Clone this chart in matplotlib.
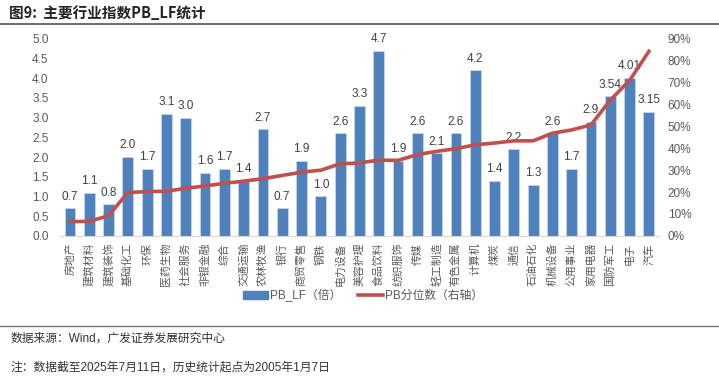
import matplotlib.pyplot as plt
import numpy as np
from matplotlib.lines import Line2D
from matplotlib.patches import Patch

plt.rcParams['font.family'] = ['Liberation Sans', 'Noto Sans CJK SC', 'DejaVu Sans']

# industry names
industries = ["房地产", "建筑材料", "建筑装饰", "基础化工", "环保", "医药生物", "社会服务",
              "非银金融", "综合", "交通运输", "农林牧渔", "银行", "商贸零售", "钢铁",
              "电力设备", "美容护理", "食品饮料", "纺织服饰", "传媒", "轻工制造", "有色金属",
              "计算机", "煤炭", "通信", "石油石化", "机械设备", "公用事业", "家用电器",
              "国防军工", "电子", "汽车"]
# PB_LF values (bars)
pb_lf = [0.7, 1.1, 0.8, 2.0, 1.7, 3.1, 3.0, 1.6, 1.7, 1.4, 2.7, 0.7, 1.9, 1.0,
         2.6, 3.3, 4.7, 1.9, 2.6, 2.1, 2.6, 4.2, 1.4, 2.2, 1.3, 2.6, 1.7, 2.9,
         3.54, 4.01, 3.15]
pb_labels = ["0.7", "1.1", "0.8", "2.0", "1.7", "3.1", "3.0", "1.6", "1.7", "1.4", "2.7",
             "0.7", "1.9", "1.0", "2.6", "3.3", "4.7", "1.9", "2.6", "2.1", "2.6", "4.2",
             "1.4", "2.2", "1.3", "2.6", "1.7", "2.9", "3.54", "4.01", "3.15"]
# PB percentile (right axis, %)
pb_pct = [6.5, 6.6, 9.2, 19.8, 20.2, 20.4, 21.7, 22.8, 24.0, 25.0, 26.1, 27.6, 29.1, 30.0,
          32.9, 33.3, 34.6, 34.5, 37.1, 38.6, 39.8, 41.6, 42.4, 43.4, 43.4, 46.9, 48.4,
          50.7, 62.0, 71.0, 84.3]

BLUE = "#4F81BD"
RED = "#C0504D"
GREY = "#595959"

fig = plt.figure(figsize=(7.19, 3.81), dpi=100)
ax = fig.add_axes([0.0839, 0.381, 0.832, 0.517])
x = np.arange(len(industries))

ax.bar(x, pb_lf, width=0.56, color=BLUE, edgecolor="#C9D7EA", linewidth=0.6, zorder=2)
for xi, v, lab in zip(x, pb_lf, pb_labels):
    ax.annotate(lab, (xi, v), xytext=(0, 4), textcoords="offset points",
                ha="center", va="bottom", fontsize=8.5, color="#404040")

ax.set_xlim(-0.5, len(industries) - 0.5)
ax.set_ylim(0, 5.0)
ax.set_yticks(np.arange(0, 5.01, 0.5))
ax.set_yticklabels([f"{v:.1f}" for v in np.arange(0, 5.01, 0.5)])
ax.set_xticks(x)
# labels rotated to read upward, as in the source chart
ax.set_xticklabels(industries, color=GREY, rotation=90, ha="center", va="top",
                   family=['Noto Sans CJK SC'])
ax.tick_params(axis="both", length=0, labelsize=8.5, labelcolor=GREY)
ax.tick_params(axis="y", pad=8.5)
ax.tick_params(axis="x", pad=5, labelsize=7.8)
for s in ["top", "right", "left"]:
    ax.spines[s].set_visible(False)
ax.spines["bottom"].set_color("#D9D9D9")

ax2 = ax.twinx()
ax2.plot(x, pb_pct, color=RED, linewidth=2.6, zorder=3)
ax2.set_ylim(0, 90)
ax2.set_yticks(np.arange(0, 91, 10))
ax2.set_yticklabels([f"{v}%" for v in range(0, 91, 10)])
ax2.tick_params(axis="y", length=0, labelsize=8.5, labelcolor=GREY, pad=6.7)
for s in ["top", "right", "left", "bottom"]:
    ax2.spines[s].set_visible(False)

handles = [Patch(color=BLUE), Line2D([0], [0], color=RED, linewidth=2.6)]
fig.legend(handles, ["PB_LF（倍）", "PB分位数（右轴）"], loc="center", ncol=2,
           bbox_to_anchor=(0.505, 0.224), frameon=False,
           handlelength=2.1, handleheight=0.6, handletextpad=0.2, columnspacing=1.4,
           labelcolor=GREY,
           prop={'family': ['Liberation Sans', 'Noto Sans CJK SC'], 'size': 8.5})

fig.text(0.012, 0.966, "图9:  主要行业指数PB_LF统计", fontsize=10.5, fontweight="bold",
         color="#222222", va="center", family=['Noto Sans CJK SC'])
fig.add_artist(Line2D([0.0, 1.0], [0.937, 0.937], color="#555555", linewidth=1.2))
fig.add_artist(Line2D([0.0, 1.0], [0.145, 0.145], color="#777777", linewidth=1.0))
fig.text(0.014, 0.110, "数据来源：Wind，广发证券发展研究中心", fontsize=8.5, color="#333333",
         va="center", family=['Liberation Sans', 'Noto Sans CJK SC'])
fig.text(0.014, 0.034, "注：数据截至2025年7月11日，历史统计起点为2005年1月7日", fontsize=8.5,
         color="#333333", va="center", family=['Liberation Sans', 'Noto Sans CJK SC'])

fig.savefig("out.png", dpi=100)
